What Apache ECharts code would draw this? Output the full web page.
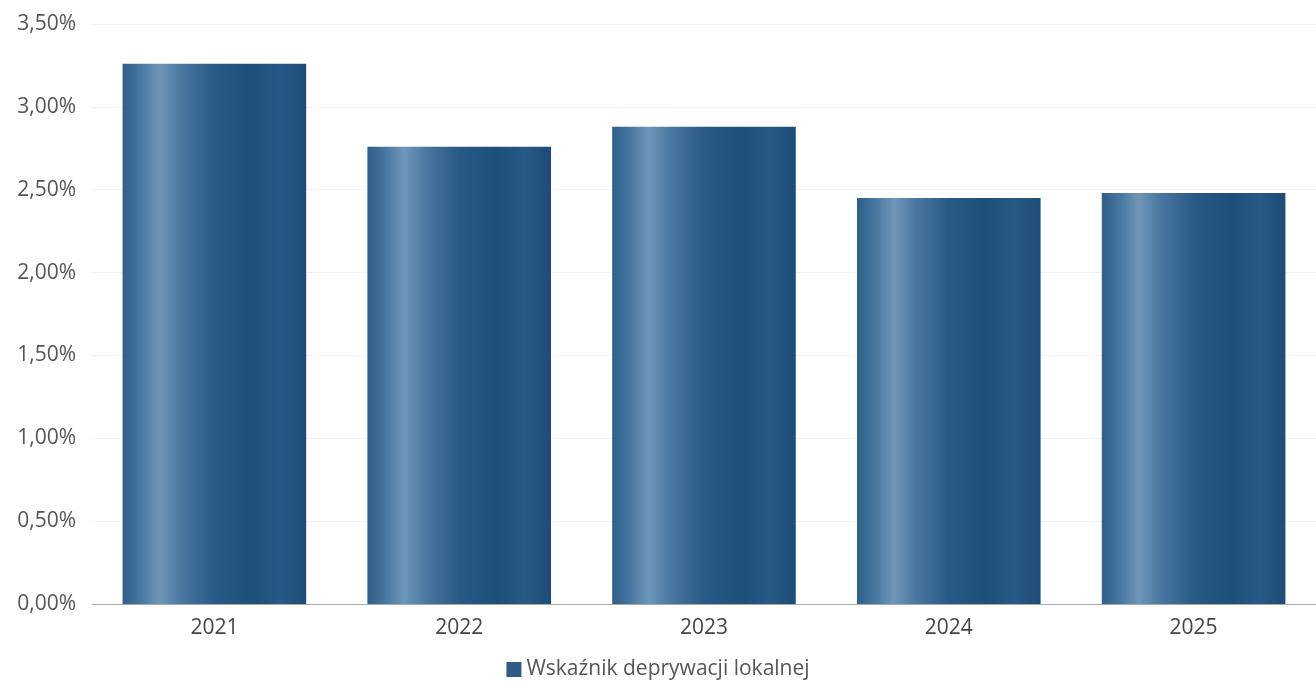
<!DOCTYPE html>
<html><head><meta charset="utf-8">
<script src="https://cdn.jsdelivr.net/npm/echarts@6/dist/echarts.min.js"></script>
<style>html,body{margin:0;padding:0;background:#fff}#c{width:1316px;height:683px}</style>
</head><body><div id="c"></div>
<script>
const categories = ['2021','2022','2023','2024','2025'];
const values = [3.26, 2.76, 2.88, 2.45, 2.48];
const seriesName = 'Wskaźnik deprywacji lokalnej';

const barGrad = new echarts.graphic.LinearGradient(0,0,1,0,[
  {offset:0, color:'#2e5e89'},
  {offset:0.08, color:'#42719b'},
  {offset:0.2, color:'#6f96ba'},
  {offset:0.32, color:'#4a77a0'},
  {offset:0.5, color:'#295986'},
  {offset:0.7, color:'#1e4e7a'},
  {offset:0.86, color:'#285885'},
  {offset:1, color:'#1d4c78'}
]);
const chart = echarts.init(document.getElementById('c'), null, {renderer:'canvas'});
chart.setOption({
  animation:false,
  backgroundColor:'#fff',
  textStyle:{fontFamily:'"Open Sans", sans-serif'},
  grid:{left:92, right:-5, top:24, bottom:79},
  legend:{bottom:-2, left:'center', itemWidth:15, itemHeight:15, icon:'rect', itemGap:10,
    textStyle:{fontSize:21, color:'#555', fontFamily:'"Open Sans", sans-serif'},
    data:[{name:seriesName, itemStyle:{color:'#2c5c87'}}]},
  xAxis:{type:'category', data:categories,
    axisLine:{lineStyle:{color:'#aaa', width:1}}, axisTick:{show:false},
    axisLabel:{fontSize:21, color:'#444', margin:14}},
  yAxis:{type:'value', min:0, max:3.5, interval:0.5,
    axisLine:{show:false}, axisTick:{show:false},
    splitLine:{lineStyle:{color:'#f3f3f3'}},
    axisLabel:{fontSize:21, color:'#555', margin:16,
      formatter:v=>v.toFixed(2).replace('.',',')+'%'}},
  series:[{type:'bar', name:seriesName, data:values, barWidth:'75%',
    itemStyle:{color:barGrad}}]
});
</script></body></html>
